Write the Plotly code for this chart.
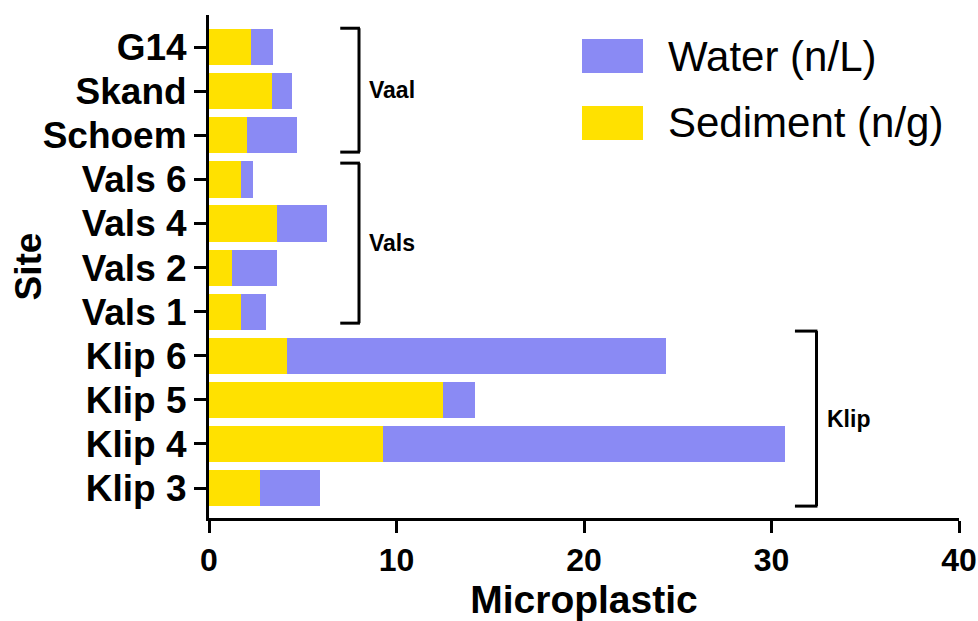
import plotly.graph_objects as go

# ---- data ----
sites = ["G14", "Skand", "Schoem", "Vals 6", "Vals 4", "Vals 2", "Vals 1",
         "Klip 6", "Klip 5", "Klip 4", "Klip 3"]
sediment = [2.26, 3.34, 2.04, 1.69, 3.61, 1.24, 1.72, 4.18, 12.50, 9.26, 2.70]
water = [1.14, 1.09, 2.65, 0.64, 2.70, 2.37, 1.32, 20.19, 1.69, 21.48, 3.24]
series_names = ["Water (n/L)", "Sediment (n/g)"]
x_ticks = [0, 10, 20, 30, 40]
groups = ["Vaal", "Vals", "Klip"]
group_members = [["G14", "Skand", "Schoem"],
                 ["Vals 6", "Vals 4", "Vals 2", "Vals 1"],
                 ["Klip 6", "Klip 5", "Klip 4", "Klip 3"]]

# ---- styling ----
WATER_C = "#8A8AF4"
SED_C = "#FFE100"
FONT = "Liberation Sans, Arial, sans-serif"
cat_order = sites[::-1]  # bottom to top

# bracket geometry (x in data units, paddings in category units)
br_x = [8.0, 8.0, 32.4]
br_tick = [1.0, 1.0, 1.15]
br_pad_top = [0.43, 0.37, 0.56]
br_pad_bot = [0.38, 0.26, 0.41]

fig = go.Figure()
fig.add_trace(go.Bar(y=sites, x=sediment, orientation="h", name=series_names[1],
                     marker=dict(color=SED_C, line=dict(width=0)), width=0.82,
                     showlegend=False))
fig.add_trace(go.Bar(y=sites, x=water, orientation="h", name=series_names[0],
                     marker=dict(color=WATER_C, line=dict(width=0)), width=0.82,
                     showlegend=False))

shapes = []
annotations = []
for g, members, bx, bt, pt, pb in zip(groups, group_members, br_x, br_tick,
                                      br_pad_top, br_pad_bot):
    idx = [cat_order.index(m) for m in members]
    top = max(idx) + pt
    bot = min(idx) - pb
    line = dict(color="black", width=3)
    shapes.append(dict(type="line", xref="x", yref="y", x0=bx, x1=bx, y0=bot, y1=top, line=line))
    shapes.append(dict(type="line", xref="x", yref="y", x0=bx - bt, x1=bx + 0.05, y0=top, y1=top, line=line))
    shapes.append(dict(type="line", xref="x", yref="y", x0=bx - bt, x1=bx + 0.05, y0=bot, y1=bot, line=line))
    annotations.append(dict(x=bx + 0.45, y=(top + bot) / 2, xref="x", yref="y",
                            text=g, showarrow=False, xanchor="left",
                            yanchor="middle",
                            font=dict(family=FONT, size=23, color="black", weight="bold")))

# manual legend (large swatches)
L, R, T, B = 209, 959, 15, 518
def px(x):
    return (x - L) / (R - L)
def py(y):
    return (B - y) / (B - T)
legend_items = [(series_names[0], WATER_C, 39, 73), (series_names[1], SED_C, 106, 140)]
for name, col, y0, y1 in legend_items:
    shapes.append(dict(type="rect", xref="paper", yref="paper", x0=px(582), x1=px(643),
                       y0=py(y1), y1=py(y0), fillcolor=col, line=dict(width=0)))
    annotations.append(dict(x=px(666), y=py((y0 + y1) / 2), xref="paper", yref="paper",
                            text=name, showarrow=False, xanchor="left", yanchor="middle",
                            font=dict(family=FONT, size=42, color="black")))

# y-axis title as rotated annotation
annotations.append(dict(x=px(28), y=0.5, xref="paper", yref="paper", text="Site",
                        textangle=-90, showarrow=False, xanchor="center", yanchor="middle",
                        font=dict(family=FONT, size=37, color="black", weight="bold")))

fig.update_layout(
    barmode="stack",
    width=978, height=621,
    margin=dict(l=L, r=978 - R, t=T, b=621 - B),
    paper_bgcolor="white", plot_bgcolor="white",
    shapes=shapes, annotations=annotations,
    font=dict(family=FONT, color="black"),
    xaxis=dict(range=[0, 40], tickvals=x_ticks, ticktext=[str(v) for v in x_ticks],
               automargin=False,
               showline=True, linecolor="black", linewidth=3,
               ticks="outside", ticklen=12, tickwidth=3, tickcolor="black",
               showgrid=False, zeroline=False,
               tickfont=dict(family=FONT, size=32, color="black", weight="bold"),
               title=dict(text="Microplastic", standoff=4,
                          font=dict(family=FONT, size=39, color="black", weight="bold"))),
    yaxis=dict(type="category", categoryorder="array", categoryarray=cat_order,
               range=[-0.68, 10.73], automargin=False,
               showline=True, linecolor="black", linewidth=3,
               ticks="outside", ticklen=12, tickwidth=3, tickcolor="black",
               showgrid=False, zeroline=False,
               tickfont=dict(family=FONT, size=37, color="black", weight="bold")),
)

fig.write_html("out.html")
